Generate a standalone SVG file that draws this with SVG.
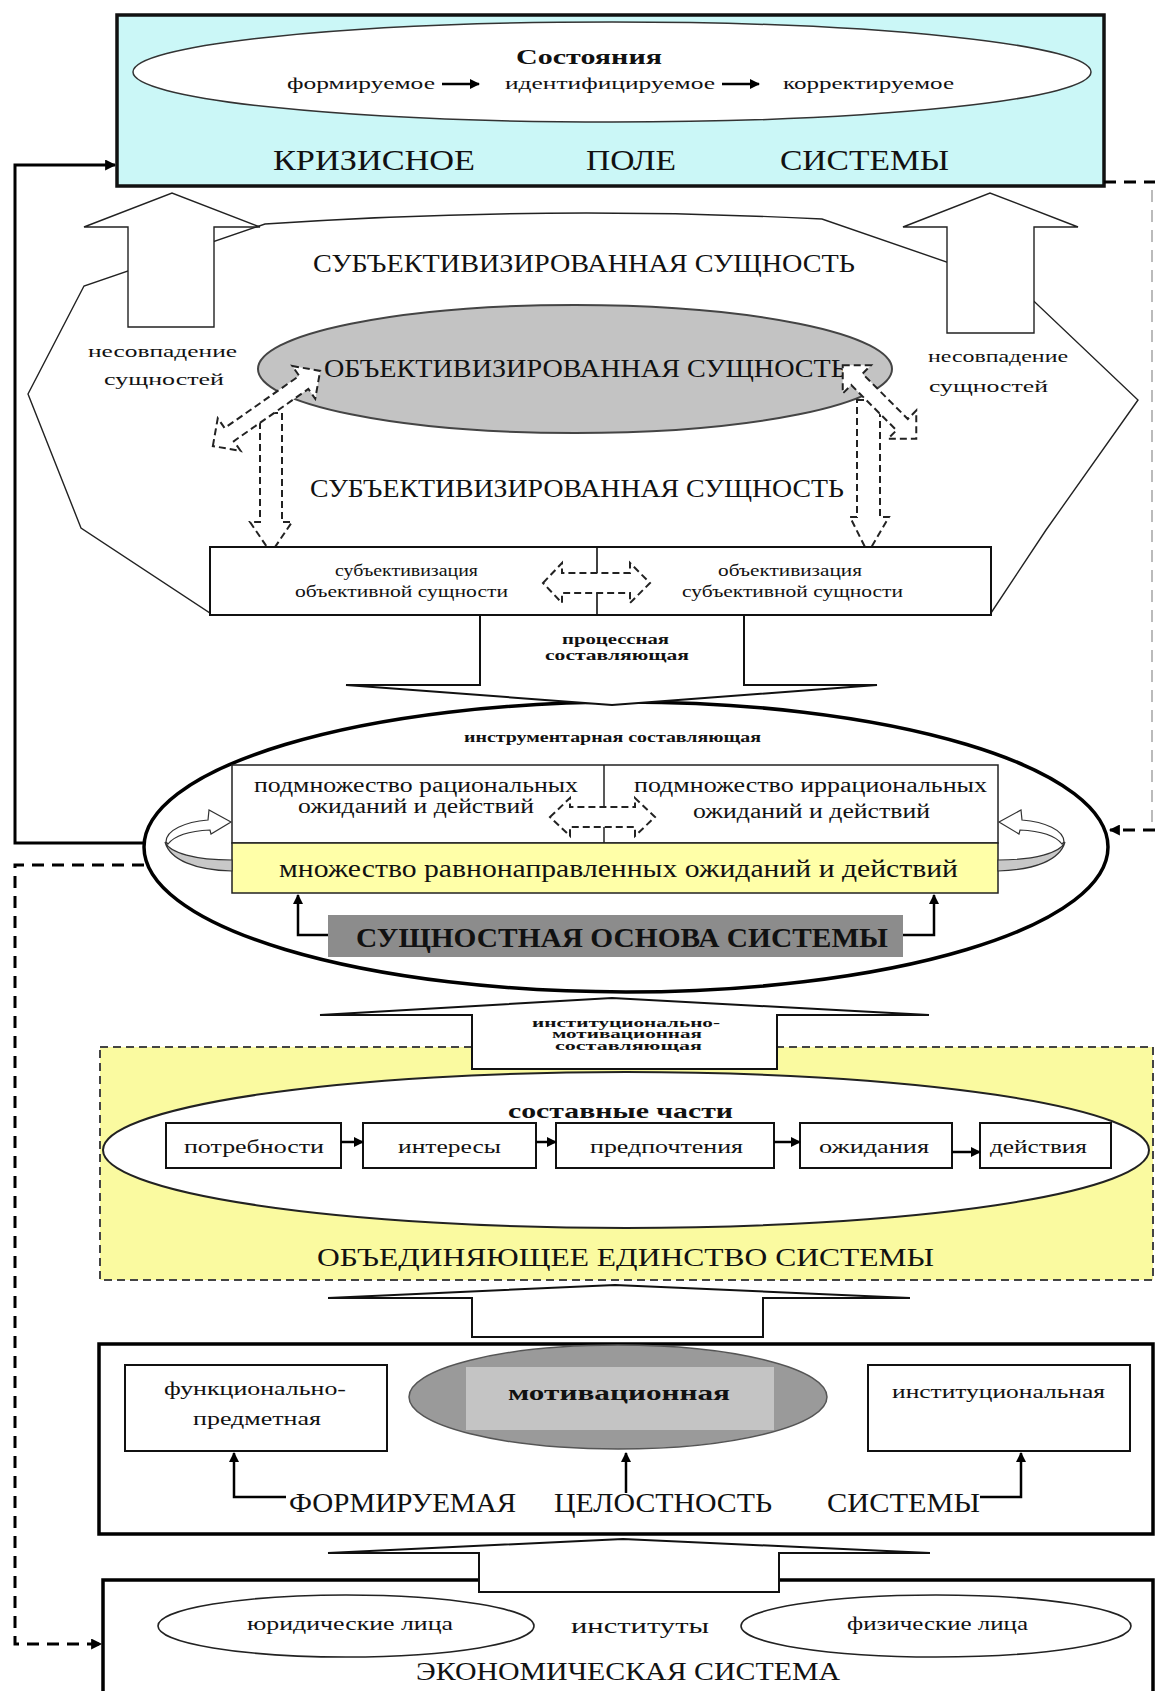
<svg xmlns="http://www.w3.org/2000/svg" width="1155" height="1691" viewBox="0 0 1155 1691">
<defs>
<style>
text{font-family:"Liberation Serif","Times New Roman",serif;fill:#111}
.b{font-weight:bold}
.thin{fill:#fff;stroke:#222;stroke-width:1.4}
.blk{fill:#fff;stroke:#111;stroke-width:2}
.dsh{fill:#fff;stroke:#222;stroke-width:2;stroke-dasharray:7 4}
.dshn{fill:none;stroke:#222;stroke-width:2;stroke-dasharray:7 4}
.box{fill:#fff;stroke:#111;stroke-width:2}
.conn{fill:none;stroke:#000;stroke-width:3}
.cdash{fill:none;stroke:#000;stroke-width:3;stroke-dasharray:12 8}
.small{fill:none;stroke:#000;stroke-width:2.5}
</style>
<marker id="ah" viewBox="0 0 10 10" refX="9" refY="5" markerWidth="13" markerHeight="11" markerUnits="userSpaceOnUse" orient="auto"><path d="M0,0 L10,5 L0,10 z" fill="#000"/></marker>
<marker id="ahs" viewBox="0 0 10 10" refX="9" refY="5" markerWidth="10" markerHeight="10" markerUnits="userSpaceOnUse" orient="auto"><path d="M0,0 L10,5 L0,10 z" fill="#000"/></marker>
</defs>
<rect x="0" y="0" width="1155" height="1691" fill="#fff"/>

<g id="crisis-field">
<rect x="117" y="15" width="987" height="171" fill="#cbf7f7" stroke="#111" stroke-width="3.5"/>
<ellipse cx="612" cy="72" rx="479" ry="50" fill="#fff" stroke="#333" stroke-width="1.5"/>
<text x="516" y="64" class="b" font-size="22" textLength="146" lengthAdjust="spacingAndGlyphs">Состояния</text>
<text x="287" y="89" font-size="16" textLength="148" lengthAdjust="spacingAndGlyphs">формируемое</text>
<text x="505" y="89" font-size="16" textLength="210" lengthAdjust="spacingAndGlyphs">идентифицируемое</text>
<text x="783" y="89" font-size="16" textLength="171" lengthAdjust="spacingAndGlyphs">корректируемое</text>
<line x1="442" y1="84" x2="479" y2="84" class="small" stroke-width="2" marker-end="url(#ahs)"/>
<line x1="722" y1="84" x2="759" y2="84" class="small" stroke-width="2" marker-end="url(#ahs)"/>
<text x="273" y="170" font-size="30" textLength="202" lengthAdjust="spacingAndGlyphs">КРИЗИСНОЕ</text>
<text x="586" y="170" font-size="30" textLength="90" lengthAdjust="spacingAndGlyphs">ПОЛЕ</text>
<text x="780" y="170" font-size="30" textLength="169" lengthAdjust="spacingAndGlyphs">СИСТЕМЫ</text>
</g>

<g id="subjectivized-essence">
<path class="thin" d="M265,224 Q545,205 822,219 L1019,287 L1138,400 L1046,530 L991,613 L210,613 L81,528 L28,394 L84,286 Z"/>
<text x="313" y="272" font-size="26" textLength="542" lengthAdjust="spacingAndGlyphs">СУБЪЕКТИВИЗИРОВАННАЯ  СУЩНОСТЬ</text>
<text x="310" y="497" font-size="26" textLength="534" lengthAdjust="spacingAndGlyphs">СУБЪЕКТИВИЗИРОВАННАЯ  СУЩНОСТЬ</text>
</g>

<g id="mismatch-left">
<path class="thin" d="M128,327 V227 H84 L172,193 L260,227 H214 V327 Z"/>
<text x="88" y="357" font-size="17" textLength="149" lengthAdjust="spacingAndGlyphs">несовпадение</text>
<text x="104" y="385" font-size="17" textLength="120" lengthAdjust="spacingAndGlyphs">сущностей</text>
</g>

<g id="mismatch-right">
<path class="thin" d="M947,333 V227 H903 L990,193 L1078,227 H1034 V333 Z"/>
<text x="928" y="362" font-size="17" textLength="140" lengthAdjust="spacingAndGlyphs">несовпадение</text>
<text x="929" y="392" font-size="17" textLength="119" lengthAdjust="spacingAndGlyphs">сущностей</text>
</g>

<g id="objectivized-essence">
<ellipse cx="575" cy="369" rx="317" ry="64" fill="#c3c3c3" stroke="#444" stroke-width="2"/>
<text x="324" y="377" font-size="26" textLength="523" lengthAdjust="spacingAndGlyphs">ОБЪЕКТИВИЗИРОВАННАЯ СУЩНОСТЬ</text>
</g>

<g id="dashed-arrows">
<polygon class="dsh" points="260,413 282,413 282,522 292,522 271,553 250,522 260,522"/>
<polygon class="dsh" points="857,400 880,400 880,517 889,517 868,553 850,517 857,517"/>
<polygon class="dsh" transform="translate(266.5,408.5) rotate(-35)" points="-65.5,0 -45.5,-20 -45.5,-8 45.5,-8 45.5,-20 65.5,0 45.5,20 45.5,8 -45.5,8 -45.5,20"/>
<polygon class="dsh" transform="translate(879.5,402) rotate(45)" points="-52,0 -32,-20 -32,-8 32,-8 32,-20 52,0 32,20 32,8 -32,8 -32,20"/>
</g>

<g id="process-box">
<rect x="210" y="547" width="781" height="68" class="box" stroke-width="1.6"/>
<line x1="597" y1="547" x2="597" y2="573" stroke="#111" stroke-width="1.6"/>
<line x1="597" y1="593" x2="597" y2="615" stroke="#111" stroke-width="1.6"/>
<polygon class="dshn" points="543,583 562,563 562,573 630,573 630,563 650,583 630,603 630,593 562,593 562,603"/>
<text x="335" y="576" font-size="17" textLength="143" lengthAdjust="spacingAndGlyphs">субъективизация</text>
<text x="295" y="597" font-size="17" textLength="213" lengthAdjust="spacingAndGlyphs">объективной сущности</text>
<text x="718" y="576" font-size="17" textLength="144" lengthAdjust="spacingAndGlyphs">объективизация</text>
<text x="682" y="597" font-size="17" textLength="221" lengthAdjust="spacingAndGlyphs">субъективной сущности</text>
</g>

<g id="essential-basis">
<ellipse cx="626" cy="847" rx="482" ry="145" fill="#fff" stroke="#000" stroke-width="3.5"/>
<text x="464" y="742" class="b" font-size="15" textLength="297" lengthAdjust="spacingAndGlyphs">инструментарная составляющая</text>
<rect x="232" y="765" width="766" height="78" fill="#fff" stroke="#222" stroke-width="1.5"/>
<rect x="232" y="843" width="766" height="50" fill="#ffffa8" stroke="#222" stroke-width="1.5"/>
<line x1="604" y1="765" x2="604" y2="807" stroke="#222" stroke-width="1.5"/>
<line x1="604" y1="827" x2="604" y2="843" stroke="#222" stroke-width="1.5"/>
<polygon class="dshn" points="550,817 570,798 570,807 635,807 635,798 655,817 635,836 635,827 570,827 570,836"/>
<text x="254" y="792" font-size="20" textLength="324" lengthAdjust="spacingAndGlyphs">подмножество рациональных</text>
<text x="298" y="813" font-size="20" textLength="236" lengthAdjust="spacingAndGlyphs">ожиданий и действий</text>
<text x="634" y="792" font-size="20" textLength="353" lengthAdjust="spacingAndGlyphs">подмножество иррациональных</text>
<text x="693" y="818" font-size="20" textLength="237" lengthAdjust="spacingAndGlyphs">ожиданий и действий</text>
<text x="279" y="877" font-size="25" textLength="679" lengthAdjust="spacingAndGlyphs">множество равнонаправленных ожиданий и действий</text>
<g id="loop-left">
<path d="M165,842 C170,853 195,860 232,860 L232,871 C195,870 170,860 165,842 Z" fill="#c8c8c8" stroke="#333" stroke-width="1.2"/>
<path d="M166,842 C166,830 185,822 208,820 L209,810 L231,822 L211,834 L210,830 C190,831 175,835 168,844 Z" fill="#fff" stroke="#333" stroke-width="1.2"/>
</g>
<g id="loop-right" transform="matrix(-1 0 0 1 1230 0)">
<path d="M165,842 C170,853 195,860 232,860 L232,871 C195,870 170,860 165,842 Z" fill="#c8c8c8" stroke="#333" stroke-width="1.2"/>
<path d="M166,842 C166,830 185,822 208,820 L209,810 L231,822 L211,834 L210,830 C190,831 175,835 168,844 Z" fill="#fff" stroke="#333" stroke-width="1.2"/>
</g>
<rect x="328" y="915" width="575" height="42" fill="#8c8c8c"/>
<text x="356" y="947" class="b" font-size="28" textLength="532" lengthAdjust="spacingAndGlyphs">СУЩНОСТНАЯ ОСНОВА СИСТЕМЫ</text>
</g>

<g id="process-arrow">
<path class="blk" stroke-width="1.6" d="M480,616 V685 H346 L612,705 L877,685 H744 V616"/>
<text x="562" y="644" class="b" font-size="15" textLength="107" lengthAdjust="spacingAndGlyphs">процессная</text>
<text x="545" y="660" class="b" font-size="15" textLength="144" lengthAdjust="spacingAndGlyphs">составляющая</text>
</g>

<g id="unifying-unity">
<rect x="100" y="1047" width="1053" height="233" fill="#fafaa0" stroke="#444" stroke-width="2" stroke-dasharray="8 5"/>
<ellipse cx="626" cy="1150" rx="523" ry="78" fill="#fff" stroke="#222" stroke-width="2"/>
<text x="508" y="1118" class="b" font-size="22" textLength="225" lengthAdjust="spacingAndGlyphs">составные части</text>
<text x="317" y="1266" font-size="26" textLength="617" lengthAdjust="spacingAndGlyphs">ОБЪЕДИНЯЮЩЕЕ  ЕДИНСТВО  СИСТЕМЫ</text>
</g>
<g id="needs"><rect x="166" y="1123" width="175" height="45" class="box"/><text x="184" y="1153" font-size="19" textLength="140" lengthAdjust="spacingAndGlyphs">потребности</text></g>
<g id="interests"><rect x="363" y="1123" width="173" height="45" class="box"/><text x="398" y="1153" font-size="19" textLength="103" lengthAdjust="spacingAndGlyphs">интересы</text></g>
<g id="preferences"><rect x="556" y="1123" width="218" height="45" class="box"/><text x="590" y="1153" font-size="19" textLength="153" lengthAdjust="spacingAndGlyphs">предпочтения</text></g>
<g id="expectations"><rect x="800" y="1123" width="152" height="45" class="box"/><text x="819" y="1153" font-size="19" textLength="110" lengthAdjust="spacingAndGlyphs">ожидания</text></g>
<g id="actions"><rect x="980" y="1123" width="131" height="45" class="box"/><text x="990" y="1153" font-size="19" textLength="97" lengthAdjust="spacingAndGlyphs">действия</text></g>

<g id="institutional-arrow">
<path class="blk" d="M472,1069 V1015 H320 L612,998 L929,1015 H777 V1069 Z"/>
<text x="532" y="1027" class="b" font-size="12" textLength="188" lengthAdjust="spacingAndGlyphs">институционально-</text>
<text x="552" y="1038" class="b" font-size="12" textLength="150" lengthAdjust="spacingAndGlyphs">мотивационная</text>
<text x="555" y="1050" class="b" font-size="12" textLength="147" lengthAdjust="spacingAndGlyphs">составляющая</text>
</g>

<g id="forming-integrity">
<rect x="99" y="1344" width="1054" height="190" fill="#fff" stroke="#000" stroke-width="3.5"/>
<text x="289" y="1512" font-size="27" textLength="227" lengthAdjust="spacingAndGlyphs">ФОРМИРУЕМАЯ</text>
<text x="554" y="1512" font-size="27" textLength="218" lengthAdjust="spacingAndGlyphs">ЦЕЛОСТНОСТЬ</text>
<text x="827" y="1512" font-size="27" textLength="153" lengthAdjust="spacingAndGlyphs">СИСТЕМЫ</text>
</g>
<g id="functional-subject"><rect x="125" y="1365" width="262" height="86" class="box"/><text x="164" y="1395" font-size="18" textLength="182" lengthAdjust="spacingAndGlyphs">функционально-</text><text x="193" y="1425" font-size="18" textLength="128" lengthAdjust="spacingAndGlyphs">предметная</text></g>
<g id="motivational"><ellipse cx="618" cy="1397" rx="209" ry="52" fill="#9a9a9a" stroke="#555" stroke-width="1.5"/><rect x="466" y="1367" width="308" height="63" fill="#c4c4c4"/><text x="508" y="1400" class="b" font-size="22" textLength="222" lengthAdjust="spacingAndGlyphs">мотивационная</text></g>
<g id="institutional"><rect x="868" y="1365" width="262" height="86" class="box"/><text x="892" y="1398" font-size="18" textLength="213" lengthAdjust="spacingAndGlyphs">институциональная</text></g>

<g id="integrity-arrow">
<path class="blk" d="M472,1337 V1298 H328 L615,1285 L910,1298 H763 V1337 Z"/>
</g>

<g id="economic-system">
<rect x="103" y="1580" width="1050" height="125" fill="#fff" stroke="#000" stroke-width="3.5"/>
<text x="571" y="1633" font-size="22" textLength="138" lengthAdjust="spacingAndGlyphs">институты</text>
<text x="416" y="1680" font-size="26" textLength="424" lengthAdjust="spacingAndGlyphs">ЭКОНОМИЧЕСКАЯ СИСТЕМА</text>
</g>
<g id="legal-entities"><ellipse cx="346" cy="1626" rx="188" ry="31" fill="#fff" stroke="#222" stroke-width="1.6"/><text x="247" y="1630" font-size="18" textLength="206" lengthAdjust="spacingAndGlyphs">юридические лица</text></g>
<g id="individuals"><ellipse cx="936" cy="1626" rx="195" ry="31" fill="#fff" stroke="#222" stroke-width="1.6"/><text x="847" y="1630" font-size="18" textLength="181" lengthAdjust="spacingAndGlyphs">физические лица</text></g>
<g id="economic-arrow">
<path class="blk" d="M479,1592 V1553 H328 L623,1539 L930,1553 H779 V1592 Z"/>
</g>

<g id="connectors">
<path class="conn" d="M144,843 H15 V165 H115" marker-end="url(#ah)"/>
<path class="cdash" d="M144,865 H15 V1644 H101" marker-end="url(#ah)"/>
<path class="cdash" d="M1104,182 H1155"/>
<path d="M1152,190 V826" fill="none" stroke="#bbb" stroke-width="2" stroke-dasharray="12 8"/>
<path class="cdash" d="M1155,830 H1110" marker-end="url(#ah)"/>
<path class="small" d="M328,935 H298 V895" marker-end="url(#ahs)"/>
<path class="small" d="M903,935 H934 V895" marker-end="url(#ahs)"/>
<path class="small" d="M341,1142 H363" marker-end="url(#ahs)"/>
<path class="small" d="M536,1142 H556" marker-end="url(#ahs)"/>
<path class="small" d="M774,1142 H800" marker-end="url(#ahs)"/>
<path class="small" d="M952,1152 H980" marker-end="url(#ahs)"/>
<path class="small" d="M286,1497 H234 V1453" marker-end="url(#ahs)"/>
<path class="small" d="M626,1493 V1453" marker-end="url(#ahs)"/>
<path class="small" d="M980,1497 H1021 V1453" marker-end="url(#ahs)"/>
</g>
</svg>
